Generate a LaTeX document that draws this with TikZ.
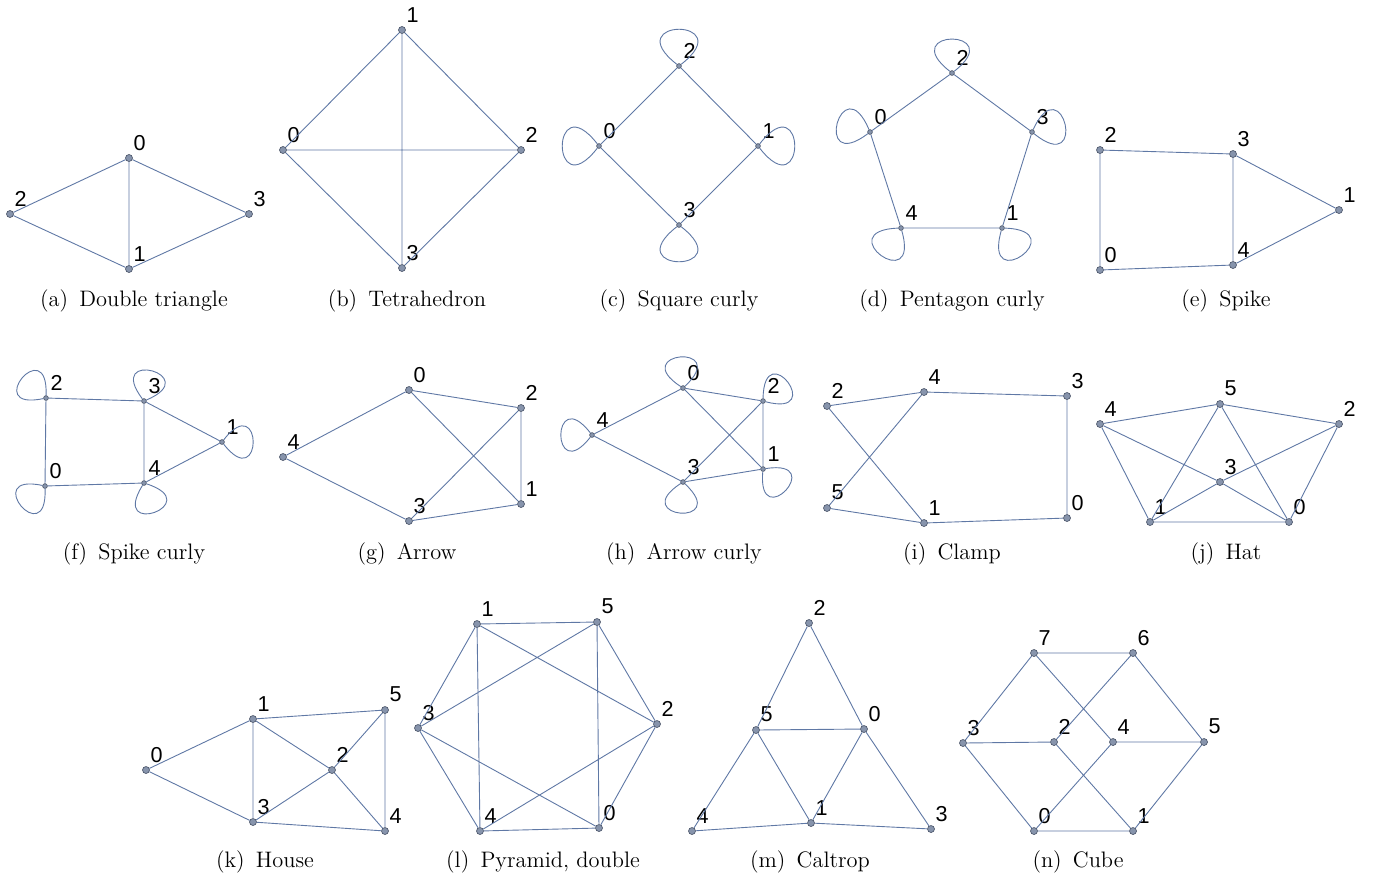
\documentclass[tikz,border=0pt]{standalone}
\usepackage{fontspec}
\setsansfont{Liberation Sans}
\definecolor{linkblue}{RGB}{95,120,165}
\definecolor{dotgray}{RGB}{135,148,172}
\definecolor{dotline}{RGB}{70,80,100}

\begin{document}
\begin{tikzpicture}[
  x=0.5pt,y=0.5pt,
  vertex/.style={circle,draw=dotline,fill=dotgray,line width=0.3pt,inner sep=0pt,minimum size=3.5pt},
  smallvertex/.style={vertex,minimum size=2.4pt},
  vlabel/.style={inner sep=0pt,xshift=5.3pt,yshift=7.7pt,
                 font=\sffamily\fontsize{10.8}{12}\selectfont},
  v/.style={vertex,label={[vlabel]center:#1}},
  sv/.style={smallvertex,label={[vlabel]center:#1}},
  link/.style={draw=linkblue,line width=0.45pt},
  selfloop/.style={link,min distance=#1},
  caption/.style={anchor=base,inner sep=0pt,font=\fontsize{11.2}{13}\selectfont}
]
\useasboundingbox (0,0) rectangle (1374,-875);

% (a) double triangle
\node[v=0] (a0) at (129,-158) {};
\node[v=1] (a1) at (129,-269) {};
\node[v=2] (a2) at (10,-214) {};
\node[v=3] (a3) at (249,-214) {};
\draw[link] (a0)--(a2) (a0)--(a1) (a0)--(a3) (a2)--(a1) (a1)--(a3);
\node[caption] (capa) at (134,-306) {(a)\enspace Double triangle};

% (b) tetrahedron
\node[v=1] (b1) at (402,-30) {};
\node[v=0] (b0) at (283,-150) {};
\node[v=2] (b2) at (521,-150) {};
\node[v=3] (b3) at (402,-268) {};
\draw[link] (b0)--(b1) (b1)--(b2) (b0)--(b2) (b1)--(b3) (b0)--(b3) (b2)--(b3);
\node[caption] (capb) at (407,-306) {(b)\enspace Tetrahedron};

% (c) square curly
\node[sv=2] (c2) at (679,-66) {};
\node[sv=0] (c0) at (599,-146) {};
\node[sv=1] (c1) at (758,-146) {};
\node[sv=3] (c3) at (679,-225) {};
\draw[link] (c0)--(c2) (c2)--(c1) (c1)--(c3) (c3)--(c0);
\draw[selfloop=38pt] (c2) to[out=142,in=38] (c2);
\draw[selfloop=38pt] (c0) to[out=232,in=128] (c0);
\draw[selfloop=38pt] (c1) to[out=52,in=-52] (c1);
\draw[selfloop=38pt] (c3) to[out=322,in=218] (c3);
\node[caption] (capc) at (679,-306) {(c)\enspace Square curly};

% (d) pentagon curly
\node[sv=2] (d2) at (952,-73) {};
\node[sv=0] (d0) at (870,-132) {};
\node[sv=3] (d3) at (1032,-132) {};
\node[sv=4] (d4) at (901,-228) {};
\node[sv=1] (d1) at (1002,-228) {};
\draw[link] (d2)--(d0) (d2)--(d3) (d0)--(d4) (d3)--(d1) (d4)--(d1);
\draw[selfloop=35pt] (d2) to[out=142,in=38] (d2);
\draw[selfloop=35pt] (d0) to[out=217,in=113] (d0);
\draw[selfloop=35pt] (d3) to[out=65,in=-39] (d3);
\draw[selfloop=35pt] (d4) to[out=286,in=182] (d4);
\draw[selfloop=35pt] (d1) to[out=358,in=254] (d1);
\node[caption] (capd) at (952,-306) {(d)\enspace Pentagon curly};

% (e) spike
\node[v=2] (e2) at (1100,-150) {};
\node[v=3] (e3) at (1233,-154) {};
\node[v=1] (e1) at (1339,-210) {};
\node[v=0] (e0) at (1100,-270) {};
\node[v=4] (e4) at (1233,-265) {};
\draw[link] (e2)--(e3) (e3)--(e1) (e3)--(e4) (e4)--(e1) (e0)--(e4) (e2)--(e0);
\node[caption] (cape) at (1226,-306) {(e)\enspace Spike};

% (f) spike curly
\node[sv=2] (f2) at (46,-398) {};
\node[sv=3] (f3) at (144,-401) {};
\node[sv=1] (f1) at (222,-442) {};
\node[sv=0] (f0) at (45,-486) {};
\node[sv=4] (f4) at (144,-483) {};
\draw[link] (f2)--(f3) (f3)--(f1) (f3)--(f4) (f4)--(f1) (f0)--(f4) (f2)--(f0);
\draw[selfloop=32pt] (f2) to[out=192,in=88] (f2);
\draw[selfloop=32pt] (f3) to[out=127,in=23] (f3);
\draw[selfloop=32pt] (f1) to[out=52,in=-52] (f1);
\draw[selfloop=32pt] (f0) to[out=272,in=168] (f0);
\draw[selfloop=32pt] (f4) to[out=342,in=238] (f4);
\node[caption] (capf) at (134,-559) {(f)\enspace Spike curly};

% (g) arrow
\node[v=0] (g0) at (409,-390) {};
\node[v=2] (g2) at (521,-408) {};
\node[v=4] (g4) at (283,-457) {};
\node[v=1] (g1) at (521,-504) {};
\node[v=3] (g3) at (409,-521) {};
\draw[link] (g0)--(g4) (g4)--(g3) (g0)--(g2) (g2)--(g1) (g0)--(g1) (g2)--(g3) (g3)--(g1);
\node[caption] (capg) at (407,-559) {(g)\enspace Arrow};

% (h) arrow curly
\node[sv=0] (h0) at (683,-388) {};
\node[sv=2] (h2) at (763,-401) {};
\node[sv=4] (h4) at (592,-435) {};
\node[sv=1] (h1) at (763,-469) {};
\node[sv=3] (h3) at (683,-482) {};
\draw[link] (h0)--(h4) (h4)--(h3) (h0)--(h2) (h2)--(h1) (h0)--(h1) (h2)--(h3) (h3)--(h1);
\draw[selfloop=32pt] (h0) to[out=147,in=43] (h0);
\draw[selfloop=32pt] (h2) to[out=89,in=-15] (h2);
\draw[selfloop=32pt] (h4) to[out=232,in=128] (h4);
\draw[selfloop=32pt] (h1) to[out=9,in=265] (h1);
\draw[selfloop=32pt] (h3) to[out=317,in=213] (h3);
\node[caption] (caph) at (684,-559) {(h)\enspace Arrow curly};

% (i) clamp
\node[v=2] (i2) at (827,-406) {};
\node[v=4] (i4) at (924,-392) {};
\node[v=3] (i3) at (1067,-396) {};
\node[v=5] (i5) at (827,-508) {};
\node[v=1] (i1) at (924,-523) {};
\node[v=0] (i0) at (1067,-518) {};
\draw[link] (i2)--(i4) (i4)--(i3) (i3)--(i0) (i2)--(i1) (i4)--(i5) (i5)--(i1) (i1)--(i0);
\node[caption] (capi) at (952,-559) {(i)\enspace Clamp};

% (j) hat
\node[v=4] (j4) at (1100,-424) {};
\node[v=5] (j5) at (1220,-404) {};
\node[v=2] (j2) at (1339,-424) {};
\node[v=3] (j3) at (1220,-482) {};
\node[v=1] (j1) at (1150,-522) {};
\node[v=0] (j0) at (1289,-522) {};
\draw[link] (j4)--(j5) (j5)--(j2) (j4)--(j1) (j2)--(j0) (j1)--(j0) (j5)--(j1)
            (j5)--(j0) (j4)--(j3) (j3)--(j0) (j2)--(j3) (j3)--(j1);
\node[caption] (capj) at (1226,-559) {(j)\enspace Hat};

% (k) house
\node[v=0] (k0) at (146,-770) {};
\node[v=1] (k1) at (253,-719) {};
\node[v=5] (k5) at (385,-710) {};
\node[v=2] (k2) at (332,-770) {};
\node[v=3] (k3) at (253,-822) {};
\node[v=4] (k4) at (385,-831) {};
\draw[link] (k0)--(k1) (k0)--(k3) (k1)--(k5) (k1)--(k3) (k1)--(k2)
            (k2)--(k5) (k2)--(k3) (k2)--(k4) (k3)--(k4) (k5)--(k4);
\node[caption] (capk) at (265,-867) {(k)\enspace House};

% (l) pyramid, double
\node[v=1] (l1) at (477,-624) {};
\node[v=5] (l5) at (597,-622) {};
\node[v=3] (l3) at (418,-728) {};
\node[v=2] (l2) at (657,-724) {};
\node[v=4] (l4) at (480,-831) {};
\node[v=0] (l0) at (599,-828) {};
\draw[link] (l1)--(l5) (l1)--(l3) (l5)--(l2) (l3)--(l4) (l2)--(l0) (l4)--(l0)
            (l1)--(l4) (l5)--(l0) (l1)--(l2) (l5)--(l3) (l3)--(l0) (l4)--(l2);
\node[caption] (capl) at (543,-867) {(l)\enspace Pyramid, double};

% (m) caltrop
\node[v=2] (m2) at (809,-623) {};
\node[v=5] (m5) at (756,-730) {};
\node[v=0] (m0) at (864,-729) {};
\node[v=4] (m4) at (692,-831) {};
\node[v=1] (m1) at (811,-823) {};
\node[v=3] (m3) at (931,-829) {};
\draw[link] (m2)--(m5) (m5)--(m4) (m2)--(m0) (m0)--(m3) (m5)--(m0)
            (m5)--(m1) (m0)--(m1) (m4)--(m1) (m1)--(m3);
\node[caption] (capm) at (810,-867) {(m)\enspace Caltrop};

% (n) cube
\node[v=7] (n7) at (1034,-653) {};
\node[v=6] (n6) at (1133,-653) {};
\node[v=3] (n3) at (963,-743) {};
\node[v=2] (n2) at (1054,-742) {};
\node[v=4] (n4) at (1113,-742) {};
\node[v=5] (n5) at (1204,-742) {};
\node[v=0] (n0) at (1034,-831) {};
\node[v=1] (n1) at (1133,-831) {};
\draw[link] (n7)--(n6) (n7)--(n3) (n7)--(n4) (n6)--(n2) (n6)--(n5) (n3)--(n2)
            (n4)--(n5) (n3)--(n0) (n5)--(n1) (n2)--(n1) (n4)--(n0) (n0)--(n1);
\node[caption] (capn) at (1078,-867) {(n)\enspace Cube};
\end{tikzpicture}
\end{document}
